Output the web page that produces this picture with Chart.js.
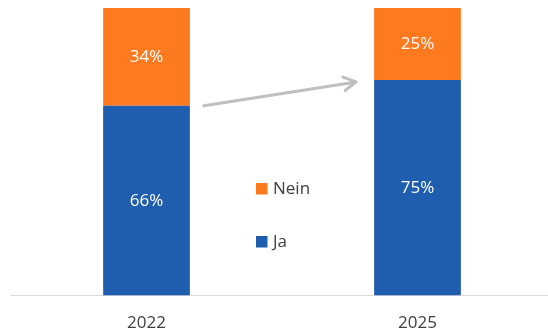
<!DOCTYPE html>
<html>
<head>
<meta charset="utf-8">
<script src="https://cdn.jsdelivr.net/npm/chart.js@4"></script>
<style>
  html, body { margin: 0; padding: 0; background: #fff; overflow: hidden; }
  #wrap { width: 553px; height: 354px; }
</style>
</head>
<body>
<div id="wrap"><canvas id="chart"></canvas></div>
<script>
const years = ['2022', '2025'];
const jaValues = [66, 75];
const neinValues = [34, 25];
const seriesNames = ['Ja', 'Nein'];

const BLUE = '#1F5DAE';
const ORANGE = '#FF7A1E';
const TEXT = '#404040';
const FONT = '"Open Sans", sans-serif';

// Prozentwerte mittig in jedes Segment schreiben
const segmentLabels = {
  id: 'segmentLabels',
  afterDatasetsDraw(chart) {
    const ctx = chart.ctx;
    ctx.save();
    ctx.fillStyle = '#fff';
    ctx.font = '17px ' + FONT;
    ctx.textAlign = 'center';
    ctx.textBaseline = 'middle';
    chart.data.datasets.forEach((ds, i) => {
      chart.getDatasetMeta(i).data.forEach((bar, j) => {
        const mid = (bar.y + bar.base) / 2;
        ctx.fillText(ds.data[j] + '%', bar.x, mid);
      });
    });
    ctx.restore();
  }
};

// Pfeil zwischen den beiden Grenzen Ja/Nein
const trendArrow = {
  id: 'trendArrow',
  afterDatasetsDraw(chart) {
    const bars = chart.getDatasetMeta(0).data;
    if (bars.length < 2) return;
    const a = bars[0], b = bars[1];
    const x1 = a.x + a.width / 2 + 14, y1 = a.y;
    const x2 = b.x - b.width / 2 - 18, y2 = b.y + 2;
    const ang = Math.atan2(y2 - y1, x2 - x1);
    const head = 14, spread = Math.PI / 6.2;
    const ctx = chart.ctx;
    ctx.save();
    ctx.strokeStyle = '#BFBFBF';
    ctx.lineWidth = 3;
    ctx.lineCap = 'round';
    ctx.lineJoin = 'round';
    ctx.beginPath();
    ctx.moveTo(x1, y1);
    ctx.lineTo(x2, y2);
    ctx.moveTo(x2 - head * Math.cos(ang - spread), y2 - head * Math.sin(ang - spread));
    ctx.lineTo(x2, y2);
    ctx.lineTo(x2 - head * Math.cos(ang + spread), y2 - head * Math.sin(ang + spread));
    ctx.stroke();
    ctx.restore();
  }
};

// Legende senkrecht in der Mitte, Nein oben
const middleLegend = {
  id: 'middleLegend',
  afterDraw(chart) {
    const ctx = chart.ctx;
    const items = chart.data.datasets.slice().reverse();
    ctx.save();
    ctx.font = '17px ' + FONT;
    ctx.textBaseline = 'middle';
    ctx.textAlign = 'left';
    items.forEach((ds, k) => {
      const cy = 189 + k * 53;
      ctx.fillStyle = ds.backgroundColor;
      ctx.fillRect(256, cy - 6, 11.5, 11.5);
      ctx.fillStyle = TEXT;
      ctx.fillText(ds.label, 273, cy);
    });
    ctx.restore();
  }
};

new Chart(document.getElementById('chart'), {
  type: 'bar',
  data: {
    labels: years,
    datasets: [
      { label: seriesNames[0], data: jaValues, backgroundColor: BLUE },
      { label: seriesNames[1], data: neinValues, backgroundColor: ORANGE }
    ]
  },
  options: {
    responsive: true,
    maintainAspectRatio: false,
    animation: false,
    barPercentage: 0.64,
    categoryPercentage: 0.5,
    layout: { padding: { left: 11, right: 0, top: 8, bottom: 4 } },
    plugins: {
      legend: { display: false },
      tooltip: { enabled: false }
    },
    scales: {
      x: {
        stacked: true,
        grid: { display: false, drawTicks: false },
        border: { display: true, color: '#D9D9D9', width: 1 },
        ticks: { color: TEXT, font: { family: FONT, size: 17 }, padding: 17 }
      },
      y: {
        stacked: true,
        display: false,
        min: 0,
        max: 100
      }
    }
  },
  plugins: [segmentLabels, trendArrow, middleLegend]
});
</script>
</body>
</html>
